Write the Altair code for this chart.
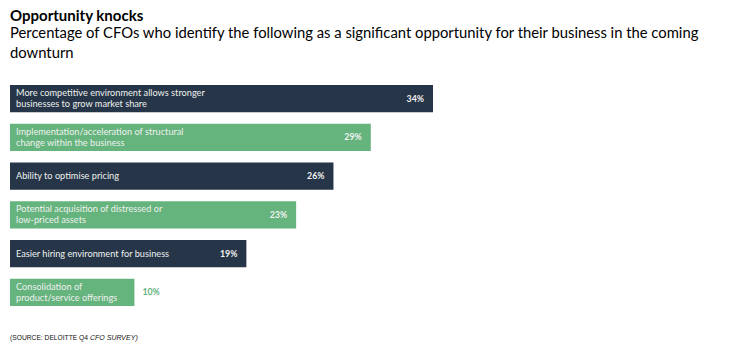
import altair as alt
import pandas as pd

categories = [
    "More competitive environment allows stronger businesses to grow market share",
    "Implementation/acceleration of structural change within the business",
    "Ability to optimise pricing",
    "Potential acquisition of distressed or low-priced assets",
    "Easier hiring environment for business",
    "Consolidation of product/service offerings",
]
line1 = [
    "More competitive environment allows stronger",
    "Implementation/acceleration of structural",
    "Ability to optimise pricing",
    "Potential acquisition of distressed or",
    "Easier hiring environment for business",
    "Consolidation of",
]
line2 = [
    "businesses to grow market share",
    "change within the business",
    "",
    "low-priced assets",
    "",
    "product/service offerings",
]
values = [34, 29, 26, 23, 19, 10]
kinds = ["dark", "green", "dark", "green", "dark", "green"]

title_text = "Opportunity knocks"
subtitle_lines = [
    "Percentage of CFOs who identify the following as a significant opportunity for their business in the coming",
    "downturn",
]
source_regular = "(SOURCE: DELOITTE Q4"
source_italic = "CFO SURVEY)"

df = pd.DataFrame({"category": categories, "line1": line1, "line2": line2,
                   "value": values, "kind": kinds})

W, H = 423, 221
x_scale = alt.Scale(domain=[0, 34], nice=False, zero=True)
y_enc = alt.Y("category:N", sort=None, axis=None,
              scale=alt.Scale(paddingInner=0.3, paddingOuter=0))
color_scale = alt.Scale(domain=["dark", "green"], range=["#263548", "#65b37d"])

base = alt.Chart(df)

bars = base.mark_bar(cornerRadius=0).encode(
    x=alt.X("value:Q", scale=x_scale, axis=None),
    y=y_enc,
    color=alt.Color("kind:N", scale=color_scale, legend=None),
)

label_style = dict(align="left", baseline="middle", dx=6, font="Lato",
                   fontSize=9.2, color="#eef1ee")

single = base.transform_filter("datum.line2 == ''").mark_text(**label_style).encode(
    x=alt.datum(0, scale=x_scale), y=y_enc, text="line1:N")
double1 = base.transform_filter("datum.line2 != ''").mark_text(dy=-5.5, **label_style).encode(
    x=alt.datum(0, scale=x_scale), y=y_enc, text="line1:N")
double2 = base.transform_filter("datum.line2 != ''").mark_text(dy=5.5, **label_style).encode(
    x=alt.datum(0, scale=x_scale), y=y_enc, text="line2:N")

val_in = base.transform_filter("datum.value >= 15").transform_calculate(
    label="datum.value + '%'"
).mark_text(
    align="right", baseline="middle", dx=-9, font="Lato", fontSize=8.8,
    fontWeight="bold", color="#f2f2f2",
).encode(
    x=alt.X("value:Q", scale=x_scale),
    y=y_enc,
    text="label:N",
)

val_out = base.transform_filter("datum.value < 15").transform_calculate(
    label="datum.value + '%'"
).mark_text(
    align="left", baseline="middle", dx=8, font="Lato", fontSize=8.8,
    fontWeight="bold", color="#65b37d",
).encode(
    x=alt.X("value:Q", scale=x_scale),
    y=y_enc,
    text="label:N",
)

src1 = alt.Chart(pd.DataFrame({"t": [source_regular]})).mark_text(
    align="left", baseline="middle", font="Liberation Sans", fontSize=6.7,
    color="#111111",
).encode(x=alt.value(0), y=alt.value(H + 32), text="t:N")

src2 = alt.Chart(pd.DataFrame({"t": [source_italic]})).mark_text(
    align="left", baseline="middle", font="Liberation Sans", fontSize=7.0,
    fontStyle="italic", color="#111111",
).encode(x=alt.value(80), y=alt.value(H + 32), text="t:N")

chart = alt.layer(bars, single, double1, double2, val_in, val_out, src1, src2).properties(
    width=W,
    height=H,
    autosize=alt.AutoSizeParams(type="none"),
    padding={"left": 2, "top": 77, "right": 288, "bottom": 40},
    title=alt.Title(
        text=title_text,
        subtitle=subtitle_lines,
        anchor="start",
        frame="group",
        font="Lato",
        fontSize=15,
        fontWeight="bold",
        color="#000000",
        subtitleFont="Lato",
        subtitleFontSize=14.8,
        subtitleColor="#000000",
        subtitleLineHeight=20,
        subtitlePadding=2,
        offset=24,
    ),
).configure_view(stroke=None)

chart.save("out.html", embed_options={"renderer": "svg", "actions": False})
